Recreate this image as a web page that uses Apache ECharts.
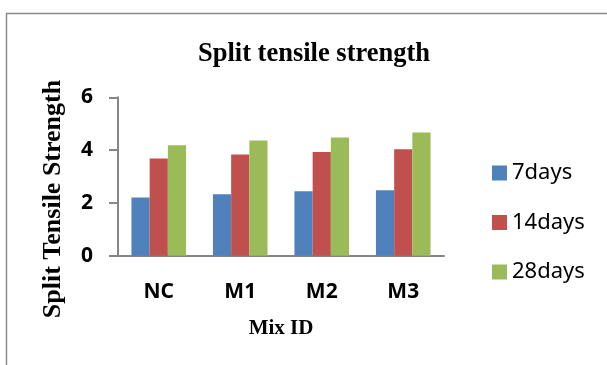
<!DOCTYPE html>
<html>
<head>
<meta charset="utf-8">
<script src="https://cdn.jsdelivr.net/npm/echarts@6/dist/echarts.min.js"></script>
<style>
  html, body { margin: 0; padding: 0; background: #fff; }
  #chart { width: 607px; height: 365px; }
</style>
</head>
<body>
<div id="chart"></div>
<script>
// Split tensile strength (MPa) by mix and curing age
const mixIds = ['NC', 'M1', 'M2', 'M3'];
const days7 = [2.2, 2.33, 2.44, 2.48];
const days14 = [3.68, 3.83, 3.93, 4.03];
const days28 = [4.18, 4.36, 4.48, 4.67];
const yTicks = [0, 2, 4, 6];

const seriesDefs = [
  { name: '7days', data: days7, color: '#4F81BD' },
  { name: '14days', data: days14, color: '#C0504D' },
  { name: '28days', data: days28, color: '#9BBB59' }
];

const serif = '"Liberation Serif", "Times New Roman", serif';
const sans = '"Noto Sans", "Liberation Sans", sans-serif';
const axisGray = '#868686';

const chart = echarts.init(document.getElementById('chart'), null, { renderer: 'canvas' });

chart.setOption({
  animation: false,
  backgroundColor: '#ffffff',
  title: {
    text: 'Split tensile strength',
    left: 309,
    textAlign: 'center',
    top: 36,
    textStyle: { fontFamily: serif, fontWeight: 'bold', fontSize: 26.5, color: '#000' }
  },
  legend: {
    orient: 'vertical',
    left: 487,
    top: 157,
    itemWidth: 15,
    itemHeight: 15,
    itemGap: 27.5,
    icon: 'rect',
    textStyle: { fontFamily: sans, fontSize: 22, color: '#000', lineHeight: 20 },
    data: seriesDefs.map(s => s.name)
  },
  grid: { left: 118, right: 163, top: 97.3, bottom: 109.3, containLabel: false },
  xAxis: {
    type: 'category',
    data: mixIds,
    axisLine: { lineStyle: { color: axisGray, width: 2 } },
    axisTick: { show: false },
    axisLabel: { fontFamily: sans, fontWeight: 'bold', fontSize: 21, color: '#000', margin: 26 },
    name: 'Mix ID',
    nameLocation: 'middle',
    nameGap: 62,
    nameTextStyle: { fontFamily: serif, fontWeight: 'bold', fontSize: 21, color: '#000' }
  },
  yAxis: {
    type: 'value',
    min: yTicks[0],
    max: yTicks[yTicks.length - 1],
    interval: yTicks[1] - yTicks[0],
    axisLine: { show: true, lineStyle: { color: axisGray, width: 2 } },
    axisTick: { show: true, length: 9, lineStyle: { color: axisGray, width: 2 } },
    splitLine: { show: false },
    axisLabel: { fontFamily: sans, fontWeight: 'bold', fontSize: 21, color: '#000', margin: 25 }
  },
  graphic: [
    {
      type: 'rect',
      silent: true,
      shape: { x: 6.5, y: 13.5, width: 700, height: 500 },
      style: { fill: 'none', stroke: '#8a8a8a', lineWidth: 1.5 },
      z: -10
    },
    {
      type: 'text',
      silent: true,
      x: 53,
      y: 199,
      rotation: Math.PI / 2,
      style: {
        text: 'Split Tensile Strength',
        fontFamily: serif,
        fontWeight: 'bold',
        fontSize: 26,
        fill: '#000',
        align: 'center',
        verticalAlign: 'middle'
      }
    }
  ],
  series: seriesDefs.map(s => ({
    name: s.name,
    type: 'bar',
    data: s.data,
    barGap: '0%',
    barCategoryGap: '33%',
    itemStyle: { color: s.color }
  }))
});
</script>
</body>
</html>
